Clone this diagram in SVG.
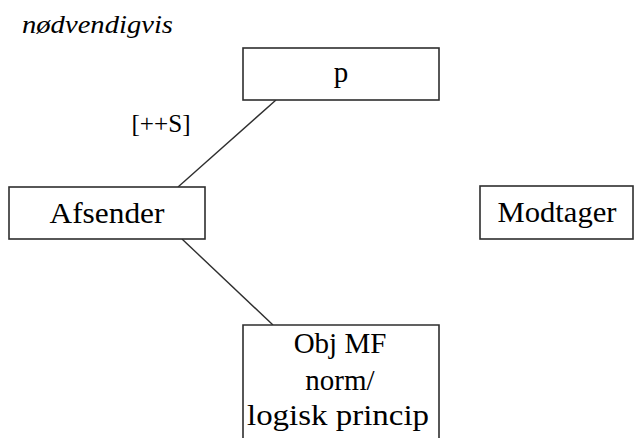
<svg xmlns="http://www.w3.org/2000/svg" width="634" height="438" viewBox="0 0 634 438">
  <style>
    .box { fill: #ffffff; stroke: #2e2e2e; stroke-width: 1.6; }
    .edge { stroke: #2e2e2e; stroke-width: 1.4; fill: none; }
  </style>
  <rect width="634" height="438" fill="#ffffff"/>

  <text x="22" y="33" font-family="Liberation Serif" font-size="26" font-style="italic" textLength="151" lengthAdjust="spacingAndGlyphs">nødvendigvis</text>

  <g id="connectors">
    <line class="edge" x1="276" y1="100" x2="178" y2="187"/>
    <line class="edge" x1="182" y1="239" x2="273" y2="325"/>
  </g>

  <g id="node-p">
    <rect class="box" x="243" y="48" width="196" height="52"/>
    <text x="341" y="82" font-family="Liberation Serif" font-size="29" text-anchor="middle">p</text>
  </g>

  <text x="161" y="132" font-family="Liberation Serif" font-size="25" text-anchor="middle" textLength="59" lengthAdjust="spacingAndGlyphs">[++S]</text>

  <g id="node-afsender">
    <rect class="box" x="9" y="187" width="196" height="52"/>
    <text x="107" y="223" font-family="Liberation Serif" font-size="29" text-anchor="middle" textLength="115" lengthAdjust="spacingAndGlyphs">Afsender</text>
  </g>

  <g id="node-modtager">
    <rect class="box" x="480" y="186" width="153" height="53"/>
    <text x="557" y="222" font-family="Liberation Serif" font-size="29" text-anchor="middle" textLength="119" lengthAdjust="spacingAndGlyphs">Modtager</text>
  </g>

  <g id="node-obj">
    <path class="box" d="M243 440 V325 H439 V440"/>
    <text x="340" y="353" font-family="Liberation Serif" font-size="29" text-anchor="middle">Obj MF</text>
    <text x="340" y="390" font-family="Liberation Serif" font-size="29" text-anchor="middle">norm/</text>
    <text x="338" y="425" font-family="Liberation Serif" font-size="29" text-anchor="middle" textLength="182" lengthAdjust="spacingAndGlyphs">logisk princip</text>
  </g>
</svg>
